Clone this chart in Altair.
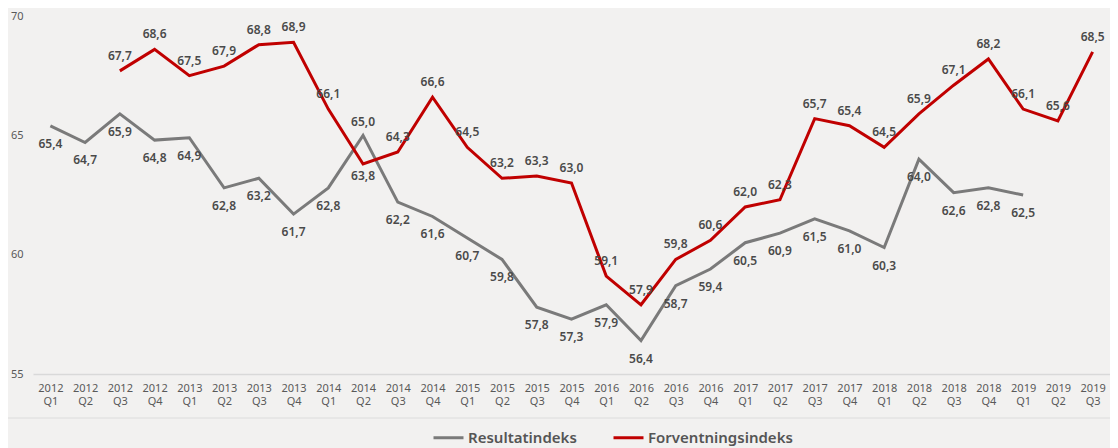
import altair as alt
import pandas as pd

quarters = [f"{y} Q{q}" for y in range(2012, 2020) for q in range(1, 5)][:31]
res_values = [65.4, 64.7, 65.9, 64.8, 64.9, 62.8, 63.2, 61.7, 62.8, 65.0, 62.2, 61.6,
              60.7, 59.8, 57.8, 57.3, 57.9, 56.4, 58.7, 59.4, 60.5, 60.9, 61.5, 61.0,
              60.3, 64.0, 62.6, 62.8, 62.5]
fv_values = [67.7, 68.6, 67.5, 67.9, 68.8, 68.9, 66.1, 63.8, 64.3, 66.6, 64.5, 63.2,
             63.3, 63.0, 59.1, 57.9, 59.8, 60.6, 62.0, 62.3, 65.7, 65.4, 64.5, 65.9,
             67.1, 68.2, 66.1, 65.6, 68.5]
series_names = ["Resultatindeks", "Forventningsindeks"]
special_q = "2014 Q2"

rows = []
for q, v in zip(quarters[:len(res_values)], res_values):
    rows.append({"q": q, "v": v, "s": series_names[0]})
for q, v in zip(quarters[2:2 + len(fv_values)], fv_values):
    rows.append({"q": q, "v": v, "s": series_names[1]})
df = pd.DataFrame(rows)
df["lab"] = df["v"].map(lambda x: f"{x:.1f}".replace(".", ","))

FONT = "Noto Sans"

x = alt.X("q:N", sort=quarters,
          scale=alt.Scale(type="point", padding=0.5),
          axis=alt.Axis(title=None, labelAngle=0, labelExpr="split(datum.label, ' ')",
                        ticks=False, domainColor="#d9d9d9", domainWidth=1.5,
                        labelColor="#595959", labelFontSize=11, labelLineHeight=13,
                        labelPadding=8, labelFont=FONT))
y = alt.Y("v:Q", scale=alt.Scale(domain=[55, 70], nice=False, zero=False),
          axis=alt.Axis(title=None, values=[55, 60, 65, 70], domain=False, ticks=False,
                        grid=False, labelPadding=10, labelColor="#595959",
                        labelFontSize=11, labelFont=FONT))

base = alt.Chart(df).encode(x=x, y=y)

lines = base.mark_line(strokeWidth=3).encode(
    color=alt.Color("s:N",
                    scale=alt.Scale(domain=series_names, range=["#7a7a7a", "#c00000"]),
                    legend=alt.Legend(title=None, orient="none", legendX=399, legendY=405,
                                      direction="horizontal", symbolType="stroke",
                                      symbolStrokeWidth=3, symbolSize=900,
                                      labelFontSize=15, labelColor="#555555",
                                      labelFont=FONT, labelFontWeight=600,
                                      labelOffset=3, columnPadding=30))
)

txt = dict(fontSize=12, font=FONT, fontWeight=600, color="#4a4a4a")

res_below = base.transform_filter(
    (alt.datum.s == series_names[0]) & (alt.datum.q != special_q)
).mark_text(dy=18, **txt).encode(text="lab:N")
res_above = base.transform_filter(
    (alt.datum.s == series_names[0]) & (alt.datum.q == special_q)
).mark_text(dy=-13, **txt).encode(text="lab:N")
fv_above = base.transform_filter(
    (alt.datum.s == series_names[1]) & (alt.datum.q != special_q)
).mark_text(dy=-15, **txt).encode(text="lab:N")
fv_below = base.transform_filter(
    (alt.datum.s == series_names[1]) & (alt.datum.q == special_q)
).mark_text(dy=12, **txt).encode(text="lab:N")

sep = alt.Chart(pd.DataFrame({"a": [0]})).mark_rule(color="#dcdcdc", strokeWidth=1).encode(
    x=alt.value(-33), x2=alt.value(1090), y=alt.value(402)
)

chart = alt.layer(sep, lines, res_below, res_above, fv_above, fv_below).properties(
    width=1077, height=358,
    background="#f2f1f0",
    autosize=alt.AutoSizeParams(type="none"),
    padding={"left": 25, "top": 8, "right": 0, "bottom": 74},
).configure_view(stroke=None)

chart.save("out.html", embed_options={"renderer": "svg", "actions": False})
